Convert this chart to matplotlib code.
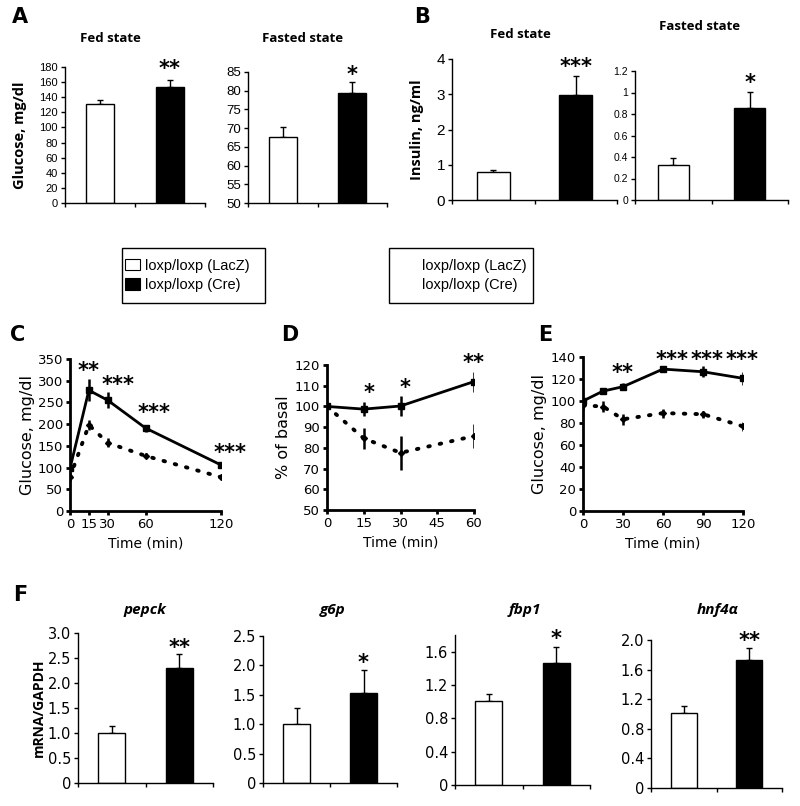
import matplotlib
matplotlib.use("Agg")
import matplotlib.pyplot as plt
from matplotlib.patches import Rectangle, Patch
from matplotlib.lines import Line2D

# ---------------- data ----------------
groups = ["loxp/loxp (LacZ)", "loxp/loxp (Cre)"]

fed_glucose = [131, 153]
fed_glucose_err = [5, 10]
fasted_glucose = [67.5, 79.4]
fasted_glucose_err = [2.7, 3.0]

fed_insulin = [0.80, 2.97]
fed_insulin_err = [0.06, 0.55]
fasted_insulin = [0.325, 0.855]
fasted_insulin_err = [0.065, 0.15]

# C: glucose tolerance
c_time = [0, 15, 30, 60, 120]
c_cre = [98, 278, 255, 191, 106]
c_cre_err = [6, 25, 18, 8, 3]
c_lacz = [78, 198, 157, 127, 78]
c_lacz_err = [10, 12, 10, 6, 5]
c_stars = ["**", "***", "***", "***"]
c_star_x = [15, 38, 67, 127]
c_star_y = [322, 290, 225, 133]

# D: insulin tolerance (% of basal)
d_time = [0, 15, 30, 60]
d_cre = [100, 98.7, 100.2, 112]
d_cre_err = [0.8, 3.2, 4.7, 4.8]
d_lacz = [100, 84.6, 77.6, 85.7]
d_lacz_err = [0.8, 5.2, 8.2, 6.0]
d_stars = ["*", "*", "**"]
d_star_x = [17, 32, 60]
d_star_y = [106.5, 109, 121]

# E: pyruvate tolerance
e_time = [0, 15, 30, 60, 90, 120]
e_cre = [100, 109, 113, 129, 126.6, 120.6]
e_cre_err = [1.5, 2, 3, 3, 5, 6]
e_lacz = [96, 95, 83.4, 89, 88, 77]
e_lacz_err = [4, 5, 5, 4, 3, 4]
e_stars = ["**", "***", "***", "***"]
e_star_x = [30, 67, 93, 119]
e_star_y = [125.5, 137, 137, 137]

# F: gene expression
genes = ["pepck", "g6p", "fbp1", "hnf4\u03b1"]
gene_vals = [[1.0, 2.31], [1.0, 1.53], [1.01, 1.47], [1.02, 1.73]]
gene_errs = [[0.14, 0.27], [0.28, 0.40], [0.08, 0.19], [0.09, 0.16]]
gene_stars = ["**", "*", "*", "**"]
gene_star_y = [2.7, 2.04, 1.75, 1.98]
gene_ylims = [3.0, 2.5, 1.8, 2.0]
gene_yticks = [[0, 0.5, 1.0, 1.5, 2.0, 2.5, 3.0],
               [0, 0.5, 1.0, 1.5, 2.0, 2.5],
               [0, 0.4, 0.8, 1.2, 1.6],
               [0, 0.4, 0.8, 1.2, 1.6, 2.0]]
gene_yticklabels = [["0", "0.5", "1.0", "1.5", "2.0", "2.5", "3.0"],
                    ["0", "0.5", "1.0", "1.5", "2.0", "2.5"],
                    ["0", "0.4", "0.8", "1.2", "1.6"],
                    ["0", "0.4", "0.8", "1.2", "1.6", "2.0"]]

# ---------------- layout ----------------
W, H = 800, 806
fig = plt.figure(figsize=(W / 100, H / 100), dpi=100)
TITLE_FONT = ["Open Sans", "DejaVu Sans"]
BODY_FONT = ["DejaVu Sans"]
STAR_FONT = ["DejaVu Sans"]


def px_axes(x0, x1, ytop, ybot):
    return fig.add_axes([x0 / W, 1 - ybot / H, (x1 - x0) / W, (ybot - ytop) / H])


def style_axes(ax, lw=1.0):
    for s in ("top", "right"):
        ax.spines[s].set_visible(False)
    ax.spines["left"].set_linewidth(lw)
    ax.spines["bottom"].set_linewidth(lw)
    ax.tick_params(direction="out", width=lw, length=3, pad=2)


def bar_panel(rect, vals, errs, ylim, yticks, yticklabels, fs, star, star_y,
              font=BODY_FONT, star_fs=15):
    ax = px_axes(*rect)
    style_axes(ax, 1.0)
    xs = [0.5, 1.5]
    ax.bar(xs, vals, width=0.4, color=["white", "black"], edgecolor="black",
           linewidth=1.0, zorder=2)
    ax.errorbar(xs, vals, yerr=[[0, 0], errs], fmt="none", ecolor="black",
                elinewidth=1.0, capsize=2, capthick=1.0, zorder=1)
    ax.set_xlim(0, 2)
    ax.set_ylim(*ylim)
    ax.set_xticks([0, 1, 2])
    ax.set_xticklabels([])
    ax.set_yticks(yticks)
    ax.set_yticklabels(yticklabels, fontsize=fs, family=font)
    ax.text(xs[1], star_y, star, ha="center", va="center", fontsize=star_fs,
            fontweight="bold", family=STAR_FONT)
    return ax


def px_text(x, y, s, **kw):
    fig.text(x / W, 1 - y / H, s, **kw)


# ---- Panel A ----
axA1 = bar_panel((65, 205, 67, 203), fed_glucose, fed_glucose_err, (0, 180),
                 list(range(0, 181, 20)), [str(v) for v in range(0, 181, 20)],
                 8, "**", 178, font=["Liberation Sans Narrow", "Liberation Sans"])
axA1.set_ylabel("Glucose, mg/dl", fontsize=10.5, fontweight="bold",
                family=TITLE_FONT, labelpad=9)
axA2 = bar_panel((248, 387, 72, 203), fasted_glucose, fasted_glucose_err, (50, 85),
                 list(range(50, 86, 5)), [str(v) for v in range(50, 86, 5)],
                 9.5, "*", 84.2, font=["Liberation Sans"])
px_text(20, 17, "A", fontsize=15, fontweight="bold", ha="center", va="center")
px_text(110, 38, "Fed state", fontsize=9.5, fontweight="bold", ha="center",
        va="center", family=TITLE_FONT)
px_text(303, 38, "Fasted state", fontsize=9.5, fontweight="bold", ha="center",
        va="center", family=TITLE_FONT)

# ---- Panel B ----
axB1 = bar_panel((452, 617, 59, 200), fed_insulin, fed_insulin_err, (0, 4),
                 [0, 1, 2, 3, 4], ["0", "1", "2", "3", "4"], 11, "***", 3.78,
                 font=["Liberation Sans"])
axB1.set_ylabel("Insulin, ng/ml", fontsize=10.5, fontweight="bold",
                family=TITLE_FONT, labelpad=9)
axB2 = bar_panel((635, 788, 71, 200), fasted_insulin, fasted_insulin_err, (0, 1.2),
                 [0, 0.2, 0.4, 0.6, 0.8, 1.0, 1.2],
                 ["0", "0.2", "0.4", "0.6", "0.8", "1", "1.2"], 7.5, "*", 1.09,
                 font=["Liberation Sans"])
px_text(422, 17, "B", fontsize=15, fontweight="bold", ha="center", va="center")
px_text(520, 34, "Fed state", fontsize=9.5, fontweight="bold", ha="center",
        va="center", family=TITLE_FONT)
px_text(700, 27, "Fasted state", fontsize=9.5, fontweight="bold", ha="center",
        va="center", family=TITLE_FONT)

# ---- Legends ----
fig.patches.append(Rectangle((122 / W, 1 - 303 / H), 143 / W, 55 / H,
                             transform=fig.transFigure, fill=False,
                             edgecolor="black", linewidth=1.0))
fig.patches.append(Rectangle((389 / W, 1 - 303 / H), 144 / W, 55 / H,
                             transform=fig.transFigure, fill=False,
                             edgecolor="black", linewidth=1.0))
h1 = [Patch(facecolor="white", edgecolor="black", linewidth=0.8),
      Patch(facecolor="black", edgecolor="black", linewidth=0.8)]
fig.legend(h1, groups, loc="center left", bbox_to_anchor=(125 / W, 1 - 275.5 / H),
           frameon=False, handlelength=1.0, handleheight=0.8, handletextpad=0.4,
           labelspacing=0.35, borderpad=0, borderaxespad=0,
           prop={"family": "Liberation Sans", "size": 10.5})
h2 = [Line2D([], [], color="black", visible=False),
      Line2D([], [], color="black", visible=False)]
fig.legend(h2, groups, loc="center left", bbox_to_anchor=(396 / W, 1 - 275.5 / H),
           frameon=False, handlelength=1.2, handletextpad=0.6,
           labelspacing=0.35, borderpad=0, borderaxespad=0,
           prop={"family": "Liberation Sans", "size": 10.5})


# ---- line panels ----
def line_panel(rect, t, cre, cre_err, lacz, lacz_err, xlim, xticks, ylim, yticks,
               ylabel, stars, sx, sy, ylpad, star_fs=15):
    ax = px_axes(*rect)
    style_axes(ax, 2.0)
    ax.errorbar(t, lacz, yerr=lacz_err, color="black", linestyle=(0, (0.4, 2.6)),
                linewidth=2.8, marker="D", markersize=3, elinewidth=1.8,
                capsize=0, dash_capstyle="round", zorder=2)
    ax.errorbar(t, cre, yerr=cre_err, color="black", linestyle="-",
                linewidth=2.0, marker="s", markersize=4, elinewidth=1.8,
                capsize=0, zorder=3)
    ax.set_xlim(*xlim)
    ax.set_ylim(*ylim)
    ax.set_xticks(xticks)
    ax.set_yticks(yticks)
    ax.tick_params(labelsize=9.5)
    ax.set_ylabel(ylabel, fontsize=11.5, labelpad=ylpad)
    ax.set_xlabel("Time (min)", fontsize=10, labelpad=4)
    for s, x, y in zip(stars, sx, sy):
        ax.text(x, y, s, ha="center", va="center", fontsize=star_fs,
                fontweight="bold", family=STAR_FONT, clip_on=False)
    return ax


axC = line_panel((70, 221, 359, 511), c_time, c_cre, c_cre_err, c_lacz, c_lacz_err,
                 (0, 120), [0, 15, 30, 60, 120], (0, 350), list(range(0, 351, 50)),
                 "Glucose, mg/dl", c_stars, c_star_x, c_star_y, 2)
axD = line_panel((327, 474, 365, 510), d_time, d_cre, d_cre_err, d_lacz, d_lacz_err,
                 (0, 60), [0, 15, 30, 45, 60], (50, 120), list(range(50, 121, 10)),
                 "% of basal", d_stars, d_star_x, d_star_y, 3)
axE = line_panel((583, 743, 357, 511), e_time, e_cre, e_cre_err, e_lacz, e_lacz_err,
                 (0, 120), [0, 30, 60, 90, 120], (0, 140), list(range(0, 141, 20)),
                 "Glucose, mg/dl", e_stars, e_star_x, e_star_y, 3)
px_text(18, 335, "C", fontsize=15, fontweight="bold", ha="center", va="center")
px_text(290, 335, "D", fontsize=15, fontweight="bold", ha="center", va="center")
px_text(545, 335, "E", fontsize=15, fontweight="bold", ha="center", va="center")

# ---- Panel F ----
f_rects = [(78, 213, 633, 783), (263, 397, 636, 783), (455, 590, 635, 785),
           (651, 782, 640, 788)]
f_title_x = [145, 333, 525, 718]
for i in range(4):
    ax = bar_panel(f_rects[i], gene_vals[i], gene_errs[i], (0, gene_ylims[i]),
                   gene_yticks[i], gene_yticklabels[i], 10.5, gene_stars[i],
                   gene_star_y[i])
    if i == 0:
        ax.set_ylabel("mRNA/GAPDH", fontsize=10, fontweight="bold",
                      family=TITLE_FONT, labelpad=1)
    px_text(f_title_x[i], 610, genes[i], fontsize=11, fontweight="bold",
            style="italic", ha="center", va="center", family=TITLE_FONT)
px_text(20, 595, "F", fontsize=15, fontweight="bold", ha="center", va="center")

fig.savefig("out.png", dpi=100)
